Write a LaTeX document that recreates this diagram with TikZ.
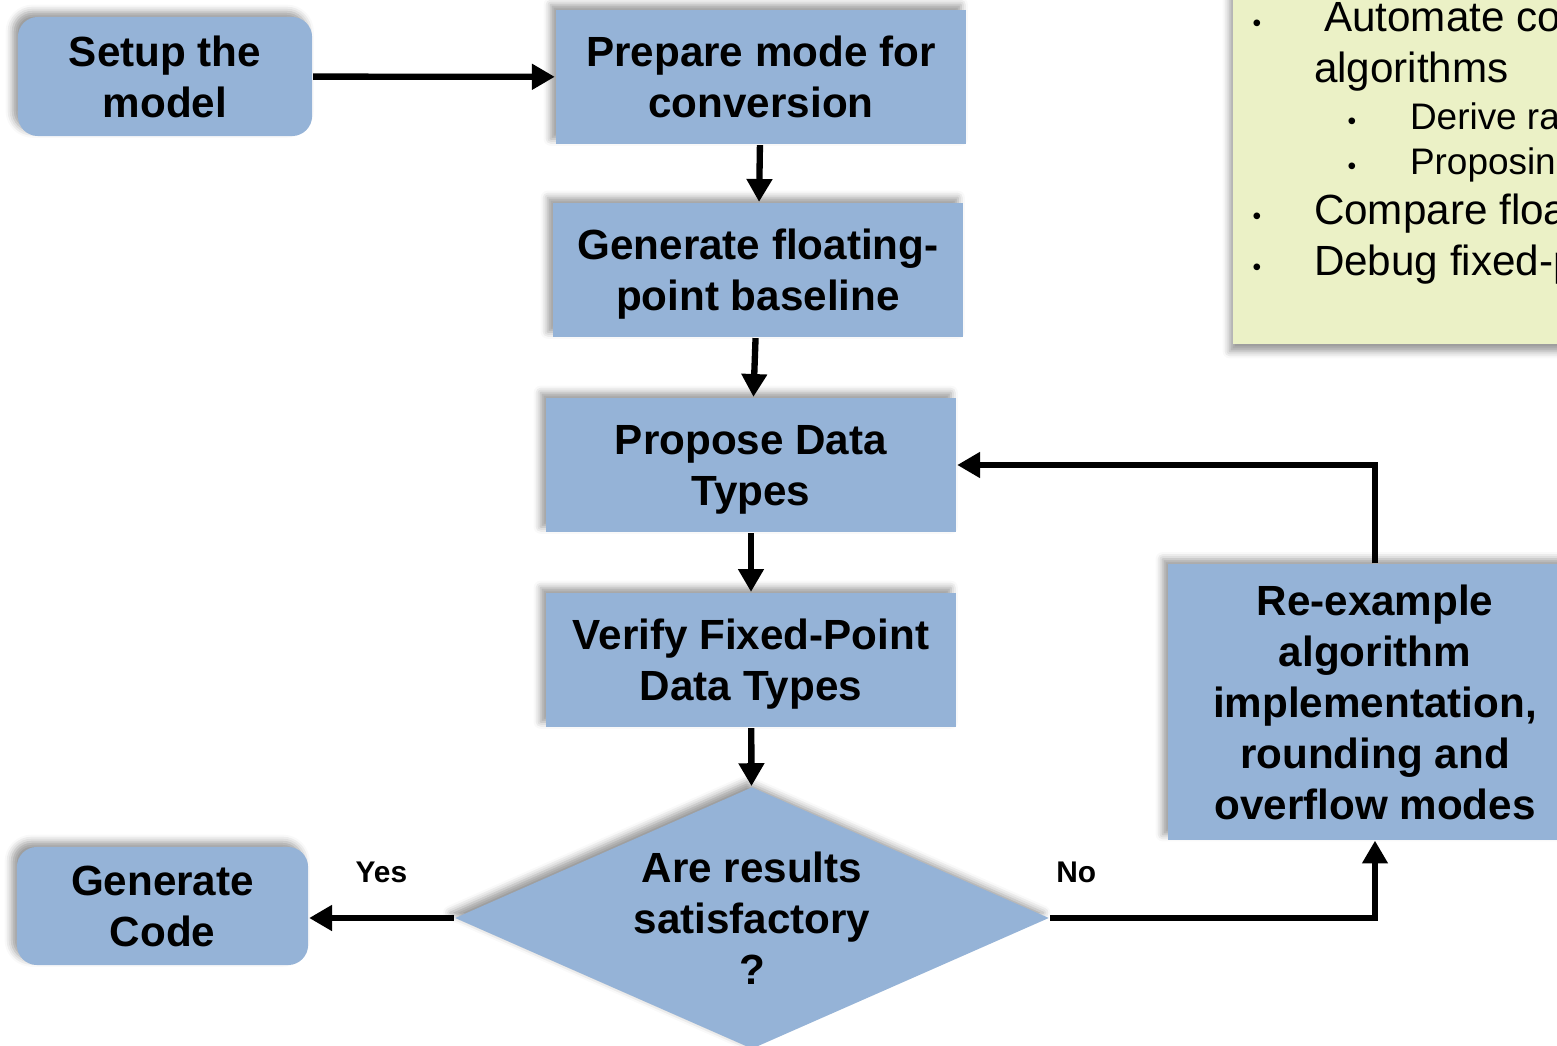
\documentclass[tikz,border=0pt]{standalone}
\usepackage{fontspec}
\setmainfont{Liberation Sans}
\usetikzlibrary{shapes.geometric, arrows.meta, shadows.blur}
\definecolor{boxblue}{HTML}{95B3D7}
\definecolor{notegreen}{HTML}{EBF1C6}

\begin{document}
\begin{tikzpicture}
            [x=0.01cm, y=-0.01cm, semithick, >={Triangle[length=6.5pt,width=7pt]},
             flow/.style={->, line width=1.8pt},
             box/.style={fill=boxblue, draw=none, align=center, inner sep=0pt, text depth=0pt,
                         font=\bfseries\fontsize{12}{14.5}\selectfont,
                         blur shadow={shadow xshift=-1.5pt, shadow yshift=1.5pt, shadow blur radius=2pt}},
             rbox/.style={box, rounded corners=0.2cm},
             lbl/.style={font=\bfseries\fontsize{8.5}{10}\selectfont},
             bullet/.style={anchor=base, inner sep=0pt, font=\fontsize{7}{7}\selectfont},
             item/.style={anchor=base west, inner sep=0pt, font=\fontsize{12}{14.5}\selectfont},
             subitem/.style={item, font=\fontsize{10.5}{12}\selectfont}]
            \useasboundingbox (0, 0) rectangle (1557, 1046);
            \clip (0, 0) rectangle (1557, 1046);

            % notes
            \node[fill=notegreen, anchor=north west, minimum width=4cm, minimum height=3.8cm,
                  blur shadow={shadow xshift=-1pt, shadow yshift=-2pt, shadow blur radius=2pt}] (notes) at (1232, -37) {};
            \node[bullet] at (1257, 32) {•};
            \node[item] at (1323, 32) {Automate co};
            \node[item] at (1313, 83) {algorithms};
            \node[bullet] at (1352, 130) {•};
            \node[subitem] at (1409, 130) {Derive ra};
            \node[bullet] at (1352, 175) {•};
            \node[subitem] at (1409, 175) {Proposin};
            \node[bullet] at (1257, 225) {•};
            \node[item] at (1313, 225) {Compare floa};
            \node[bullet] at (1257, 276) {•};
            \node[item] at (1313, 276) {Debug fixed-p};

            \node[rbox, minimum width=2.94cm, minimum height=1.19cm] (setup) at (165, 76.5) {Setup the\\model};
            \node[box, minimum width=4.1cm, minimum height=1.34cm] (prepare) at (761, 77) {Prepare mode for\\conversion};
            \node[box, minimum width=4.1cm, minimum height=1.34cm] (baseline) at (758, 270) {Generate floating-\\point baseline};
            \node[box, minimum width=4.1cm, minimum height=1.34cm] (propose) at (751, 465) {Propose Data\\Types};
            \node[box, minimum width=4.1cm, minimum height=1.34cm] (verify) at (751, 660) {Verify Fixed-Point\\Data Types};
            \node[box, shape=diamond, aspect=2.27, minimum width=5.94cm, minimum height=2.62cm] (check) at (752, 918) {Are results\\satisfactory\\?};
            \node[rbox, minimum width=2.91cm, minimum height=1.18cm] (gencode) at (162.5, 906) {Generate\\Code};
            \node[box, minimum width=4.14cm, minimum height=2.75cm] (rework) at (1375, 702) {Re-example\\algorithm\\implementation,\\rounding and\\overflow modes};

            \path [flow] (setup) edge (prepare)
                         (prepare) edge (baseline)
                         (baseline) edge (propose)
                         (propose) edge (verify)
                         (verify) edge (check);
            \draw [flow] (check.west) -- (gencode.east |- check.west) node[lbl, midway, above=0.2cm] {Yes};
            \draw [flow] (check.east) -| node[lbl, pos=0.04, above=0.2cm] {No} (rework.south);
            \draw [flow] (rework.north) |- (propose.east);
        \end{tikzpicture}
\end{document}
